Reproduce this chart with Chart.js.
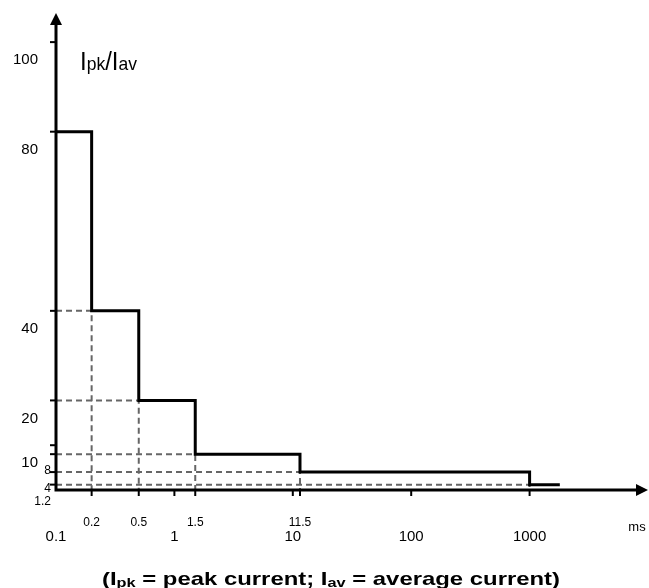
<!DOCTYPE html>
<html>
<head>
<meta charset="utf-8">
<script src="https://cdn.jsdelivr.net/npm/chart.js@4.4.1/dist/chart.umd.min.js"></script>
<style>
  body { margin: 0; background: #fff; }
  #grafico { display: block; }
</style>
</head>
<body>
<canvas id="grafico" width="649" height="588"></canvas>
<script>
// step: time (ms) where each level starts, and Ipk/Iav level
const stepX = [0.1, 0.2, 0.5, 1.5, 11.5, 1000, 1800];
const stepY = [80, 40, 20, 8, 4, 1.2, 1.2];

const yTicks = [100, 80, 40, 20, 10, 8, 4, 1.2];
const yTickLabels = ["100", "80", "40", "20", "10", "8", "4", "1.2"];
const yTickSmall = [false, false, false, false, false, true, true, true];

const xMajorTicks = [0.1, 1, 10, 100, 1000];
const xMajorLabels = ["0.1", "1", "10", "100", "1000"];
const xMinorTicks = [0.2, 0.5, 1.5, 11.5];
const xMinorLabels = ["0.2", "0.5", "1.5", "11.5"];

const FONT = "'Liberation Sans', Arial, sans-serif";
const CINZA = "#666666";

// main step line
const pontos = stepX.map((x, i) => ({ x: x, y: stepY[i] }));

// dashed guides: from y axis to each corner, then down to x axis
const guias = [];
for (let i = 1; i < stepX.length - 1; i++) {
    guias.push({
        data: [
            { x: stepX[0], y: stepY[i] },
            { x: stepX[i], y: stepY[i] },
            { x: stepX[i], y: 0 }
        ],
        borderColor: CINZA,
        borderWidth: 2,
        borderDash: [6, 4],
        pointRadius: 0,
        fill: false
    });
}

function texto(ctx, t, x, y, tam, align, peso) {
    ctx.font = (peso || "") + " " + tam + "px " + FONT;
    ctx.textAlign = align || "center";
    ctx.textBaseline = "middle";
    ctx.fillText(t, x, y);
}

// draws a run of [text, size, dy] pieces on one baseline, optionally stretched to a width
function textoComposto(ctx, partes, x, y, peso, centro, larguraAlvo) {
    ctx.save();
    ctx.textBaseline = "alphabetic";
    ctx.textAlign = "left";
    let largura = 0;
    partes.forEach(p => {
        ctx.font = (peso || "") + " " + p[1] + "px " + FONT;
        largura += ctx.measureText(p[0]).width;
    });
    const esc = larguraAlvo ? larguraAlvo / largura : 1;
    const inicio = centro ? x - largura * esc / 2 : x;
    ctx.translate(inicio, y);
    ctx.scale(esc, 1);
    let cx = 0;
    partes.forEach(p => {
        ctx.font = (peso || "") + " " + p[1] + "px " + FONT;
        ctx.fillText(p[0], cx, p[2] || 0);
        cx += ctx.measureText(p[0]).width;
    });
    ctx.restore();
}

const eixos = {
    id: "eixos",
    afterDraw(chart) {
        const ctx = chart.ctx;
        const sx = chart.scales.x;
        const sy = chart.scales.y;
        const x0 = sx.getPixelForValue(0.1);
        const y0 = sy.getPixelForValue(0);
        const xEnd = sx.getPixelForValue(10000);
        const yEnd = sy.getPixelForValue(sy.max);

        ctx.save();
        ctx.strokeStyle = "#000";
        ctx.fillStyle = "#000";
        ctx.lineWidth = 3;

        // axes
        ctx.beginPath();
        ctx.moveTo(x0, y0);
        ctx.lineTo(x0, yEnd + 8);
        ctx.moveTo(x0 - 1.5, y0);
        ctx.lineTo(xEnd - 8, y0);
        ctx.stroke();

        // arrow heads
        ctx.beginPath();
        ctx.moveTo(x0, yEnd);
        ctx.lineTo(x0 - 6, yEnd + 12);
        ctx.lineTo(x0 + 6, yEnd + 12);
        ctx.closePath();
        ctx.fill();
        ctx.beginPath();
        ctx.moveTo(xEnd, y0);
        ctx.lineTo(xEnd - 12, y0 - 6);
        ctx.lineTo(xEnd - 12, y0 + 6);
        ctx.closePath();
        ctx.fill();

        // y ticks and labels (labels sit below their tick)
        ctx.lineWidth = 2;
        yTicks.forEach((v, i) => {
            const py = sy.getPixelForValue(v);
            ctx.beginPath();
            ctx.moveTo(x0 - 6, py);
            ctx.lineTo(x0, py);
            ctx.stroke();
            if (yTickSmall[i]) {
                texto(ctx, yTickLabels[i], x0 - 5, py + 17, 12, "right");
            } else {
                texto(ctx, yTickLabels[i], x0 - 18, py + 18, 15, "right");
            }
        });

        // x ticks and labels
        xMajorTicks.forEach((v, i) => {
            const px = sx.getPixelForValue(v);
            if (i > 0) {
                ctx.beginPath();
                ctx.moveTo(px, y0);
                ctx.lineTo(px, y0 + 6);
                ctx.stroke();
            }
            texto(ctx, xMajorLabels[i], px, y0 + 47, 15);
        });
        xMinorTicks.forEach((v, i) => {
            const px = sx.getPixelForValue(v);
            ctx.beginPath();
            ctx.moveTo(px, y0);
            ctx.lineTo(px, y0 + 6);
            ctx.stroke();
            texto(ctx, xMinorLabels[i], px, y0 + 33, 12);
        });

        texto(ctx, "ms", 637, 527, 13);

        // y axis title
        textoComposto(ctx, [["I", 26], ["pk", 19], ["/", 26], ["I", 26], ["av", 19]], 80, 70, "", false, 57);

        // caption
        textoComposto(ctx, [
            ["(I", 19], ["pk", 13, 2], [" = peak current; I", 19], ["av", 13, 2], [" = average current)", 19]
        ], 331, 585, "bold", true, 458);

        ctx.restore();
    }
};

new Chart(document.getElementById("grafico"), {
    type: "line",
    data: {
        datasets: [{
            data: pontos,
            borderColor: "#000",
            borderWidth: 3,
            stepped: "before",
            pointRadius: 0,
            fill: false
        }].concat(guias)
    },
    options: {
        responsive: false,
        animation: false,
        layout: { padding: { left: 56, right: 1, top: 13, bottom: 98 } },
        plugins: { legend: { display: false }, tooltip: { enabled: false } },
        scales: {
            x: { type: "logarithmic", min: 0.1, max: 10000, display: false },
            y: { type: "linear", min: 0, max: 106.5, display: false }
        }
    },
    plugins: [eixos]
});
</script>
</body>
</html>
